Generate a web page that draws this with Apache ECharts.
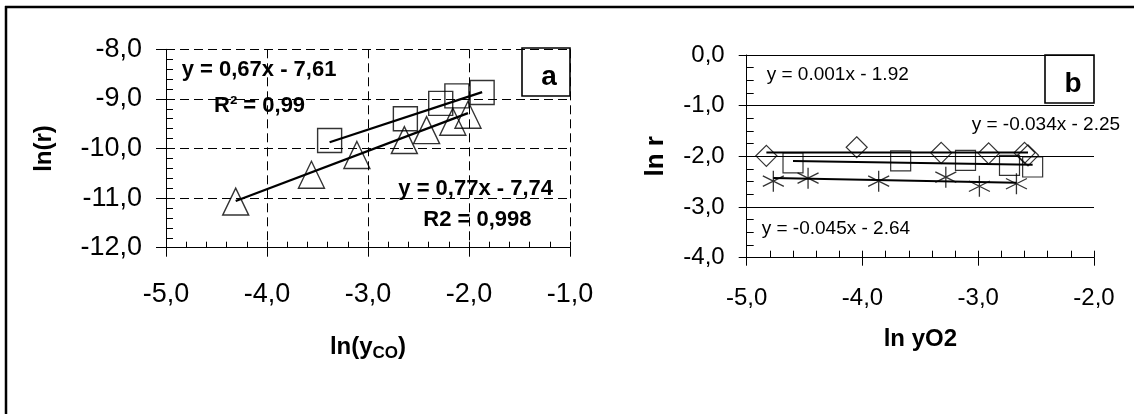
<!DOCTYPE html>
<html><head><meta charset="utf-8">
<script src="https://cdn.jsdelivr.net/npm/echarts@6/dist/echarts.min.js"></script>
<style>html,body{margin:0;padding:0;background:#fff}#c{width:1134px;height:414px}</style>
</head><body><div id="c"></div><script>
const FONT = "'Liberation Sans', Arial, sans-serif";

// ---- Panel a: ln(r) vs ln(yCO) ----
const aSquareX = [-3.38, -2.63, -2.28, -2.12, -1.87];
const aSquareY = [-9.84, -9.40, -9.09, -8.94, -8.87];
const aTriX = [-4.31, -3.56, -3.11, -2.64, -2.42, -2.16, -2.01];
const aTriY = [-11.07, -10.53, -10.13, -9.83, -9.63, -9.46, -9.32];
const aSquareFit = [0.67, -7.61];
const aTriFit = [0.77, -7.74];
const aXTicks = [-5, -1, 1];   // min, max, interval
const aYTicks = [-12, -8, 1];

// ---- Panel b: ln r vs ln yO2 ----
const bDiaX = [-4.83, -4.05, -3.32, -2.91, -2.60, -2.57];
const bDiaY = [-1.99, -1.82, -1.93, -1.94, -1.93, -1.98];
const bSqX = [-4.60, -3.67, -3.11, -2.73, -2.53];
const bSqY = [-2.13, -2.09, -2.08, -2.18, -2.21];
const bStarX = [-4.77, -4.47, -3.86, -3.28, -2.99, -2.67];
const bStarY = [-2.49, -2.43, -2.49, -2.41, -2.59, -2.54];
const bDiaFit = [0.001, -1.92];
const bSqFit = [-0.034, -2.25];
const bStarFit = [-0.045, -2.64];
const bXTicks = [-5, -2, 1];
const bYTicks = [-4, 0, 1];

const zip = (xs, ys) => xs.map((x, i) => [x, ys[i]]);
const trend = (xs, fit) => {
  const lo = Math.min(...xs), hi = Math.max(...xs);
  return [[lo, fit[0] * lo + fit[1]], [hi, fit[0] * hi + fit[1]]];
};
const comma = v => v.toFixed(1).replace('.', ',').replace('-0,0', '0,0');

const hollow = w => ({ color: 'rgba(0,0,0,0)', borderColor: '#000', borderWidth: w });
const STAR = 'path://M10,0 L10,20 M1,5 L19,15 M1,15 L19,5';

function mainAxis(grid, t, pos, o) {
  return {
    type: 'value', gridIndex: grid, position: pos, min: t[0], max: t[1], interval: t[2],
    axisLine: { onZero: false, lineStyle: { color: '#000', width: 1 } },
    axisTick: { inside: false, length: o.tick, lineStyle: { color: '#000', width: 1 } },
    axisLabel: { formatter: comma, fontFamily: FONT, fontSize: o.fs, color: '#000', margin: o.margin },
    splitLine: o.split,
    name: o.name, nameLocation: 'middle', nameGap: o.gap,
    nameTextStyle: o.nameStyle
  };
}
function minorAxis(grid, t, pos, step, len) {
  return {
    type: 'value', gridIndex: grid, position: pos, offset: 0, min: t[0], max: t[1], interval: step,
    axisLine: { show: false, onZero: false },
    axisTick: { inside: true, length: len, lineStyle: { color: '#000', width: 1 } },
    axisLabel: { show: false }, splitLine: { show: false }
  };
}
const dashed = { show: true, lineStyle: { color: '#000', width: 1, type: [9, 5] } };
const solid = { show: true, lineStyle: { color: '#000', width: 1 } };
const noSplit = { show: false };
const nameBold = (fs) => ({ fontFamily: FONT, fontSize: fs, fontWeight: 'bold', color: '#000' });

const option = {
  backgroundColor: '#fff',
  animation: false,
  grid: [
    { left: 166, top: 49.3, width: 404, height: 198.4 },
    { left: 746.7, top: 55, width: 347.3, height: 202.7 }
  ],
  xAxis: [
    mainAxis(0, aXTicks, 'bottom', { tick: 9, fs: 27, margin: 33, split: dashed, name: '{n|ln(y}{s|CO}{n|)}', gap: 86,
      nameStyle: Object.assign(nameBold(24), { rich: {
        n: { fontFamily: FONT, fontSize: 24, fontWeight: 'bold', color: '#000', lineHeight: 28 },
        s: { fontFamily: FONT, fontSize: 17, fontWeight: 'bold', color: '#000', lineHeight: 18, verticalAlign: 'bottom' } } }) }),
    minorAxis(0, aXTicks, 'bottom', 0.2, 6),
    mainAxis(1, bXTicks, 'bottom', { tick: 8, fs: 24, margin: 29, split: noSplit, name: 'ln yO2', gap: 70, nameStyle: nameBold(24) }),
    minorAxis(1, bXTicks, 'bottom', 0.2, 7)
  ],
  yAxis: [
    mainAxis(0, aYTicks, 'left', { tick: 10, fs: 27, margin: 24, split: dashed, name: 'ln(r)', gap: 110, nameStyle: nameBold(24) }),
    minorAxis(0, aYTicks, 'left', 0.2, 7),
    mainAxis(1, bYTicks, 'left', { tick: 8, fs: 24, margin: 22, split: solid, name: 'ln r', gap: 78, nameStyle: nameBold(26) }),
    minorAxis(1, bYTicks, 'left', 0.25, 7)
  ],
  series: [
    { type: 'line', xAxisIndex: 0, yAxisIndex: 0, data: trend(aSquareX, aSquareFit), showSymbol: false, lineStyle: { color: '#000', width: 2.3 } },
    { type: 'line', xAxisIndex: 0, yAxisIndex: 0, data: trend(aTriX, aTriFit), showSymbol: false, lineStyle: { color: '#000', width: 2.3 } },
    { type: 'scatter', xAxisIndex: 0, yAxisIndex: 0, data: zip(aSquareX, aSquareY), symbol: 'rect', symbolSize: 24, itemStyle: hollow(1.4) },
    { type: 'scatter', xAxisIndex: 0, yAxisIndex: 0, data: zip(aTriX, aTriY), symbol: 'triangle', symbolSize: [26, 27], itemStyle: hollow(1.4) },

    { type: 'line', xAxisIndex: 2, yAxisIndex: 2, data: trend(bDiaX, bDiaFit), showSymbol: false, lineStyle: { color: '#000', width: 2 } },
    { type: 'line', xAxisIndex: 2, yAxisIndex: 2, data: trend(bSqX, bSqFit), showSymbol: false, lineStyle: { color: '#000', width: 2 } },
    { type: 'line', xAxisIndex: 2, yAxisIndex: 2, data: trend(bStarX, bStarFit), showSymbol: false, lineStyle: { color: '#000', width: 2 } },
    { type: 'scatter', xAxisIndex: 2, yAxisIndex: 2, data: zip(bDiaX, bDiaY), symbol: 'diamond', symbolSize: [21, 21], itemStyle: hollow(1.2) },
    { type: 'scatter', xAxisIndex: 2, yAxisIndex: 2, data: zip(bSqX, bSqY), symbol: 'rect', symbolSize: 20, itemStyle: hollow(1.2) },
    { type: 'scatter', xAxisIndex: 2, yAxisIndex: 2, data: zip(bStarX, bStarY), symbol: STAR, symbolSize: 21, itemStyle: hollow(1.3) }
  ],
  graphic: [
    { type: 'line', shape: { x1: 5, y1: 7, x2: 1134, y2: 7 }, style: { stroke: '#000', lineWidth: 2.5 } },
    { type: 'line', shape: { x1: 6, y1: 6, x2: 6, y2: 414 }, style: { stroke: '#000', lineWidth: 2.5 } },
    { type: 'rect', shape: { x: 522, y: 48, width: 48, height: 48 }, style: { fill: '#fff', stroke: '#000', lineWidth: 1.6 } },
    { type: 'text', x: 549, y: 77, style: { text: 'a', font: 'bold 28px ' + FONT, fill: '#000', textAlign: 'center', textVerticalAlign: 'middle' } },
    { type: 'rect', shape: { x: 1045, y: 55, width: 49, height: 48 }, style: { fill: '#fff', stroke: '#000', lineWidth: 1.6 } },
    { type: 'text', x: 1073, y: 84, style: { text: 'b', font: 'bold 28px ' + FONT, fill: '#000', textAlign: 'center', textVerticalAlign: 'middle' } },

    { type: 'text', x: 181.7, y: 70, style: { text: 'y = 0,67x - 7,61', font: 'bold 22px ' + FONT, fill: '#000', textVerticalAlign: 'middle' } },
    { type: 'text', x: 214, y: 106, style: { text: 'R² = 0,99', font: 'bold 22px ' + FONT, fill: '#000', textVerticalAlign: 'middle' } },
    { type: 'text', x: 398.3, y: 189.3, style: { text: 'y = 0,77x - 7,74', font: 'bold 22px ' + FONT, fill: '#000', textVerticalAlign: 'middle' } },
    { type: 'text', x: 423.3, y: 220, style: { text: 'R2 = 0,998', font: 'bold 22px ' + FONT, fill: '#000', textVerticalAlign: 'middle' } },

    { type: 'text', x: 766.7, y: 75, style: { text: 'y = 0.001x - 1.92', font: '19px ' + FONT, fill: '#000', textVerticalAlign: 'middle' } },
    { type: 'text', x: 971.7, y: 125, style: { text: 'y = -0.034x - 2.25', font: '19px ' + FONT, fill: '#000', textVerticalAlign: 'middle' } },
    { type: 'text', x: 761.7, y: 228.3, style: { text: 'y = -0.045x - 2.64', font: '19px ' + FONT, fill: '#000', textVerticalAlign: 'middle' } }
  ]
};
const chart = echarts.init(document.getElementById('c'));
chart.setOption(option);
</script></body></html>
